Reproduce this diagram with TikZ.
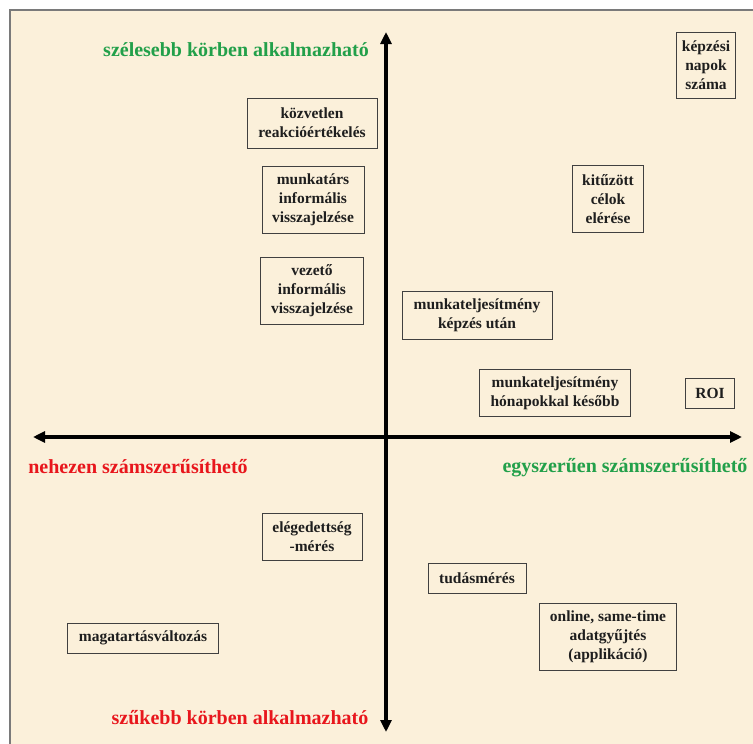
\documentclass[tikz,border=0pt]{standalone}
\usepackage{fontspec}
\setmainfont{Liberation Serif}
\usetikzlibrary{arrows.meta}
\definecolor{parchment}{HTML}{FBF0DA}
\definecolor{framegray}{HTML}{7A7A7A}
\definecolor{goodgreen}{HTML}{22A04A}
\definecolor{badred}{HTML}{E8161C}
\definecolor{boxtext}{HTML}{1E1E1E}
\tikzset{
  method/.style={draw=boxtext!85, line width=0.9pt, align=center, inner sep=0pt,
    text=boxtext, font=\fontsize{15.5}{19}\selectfont\bfseries},
  axislabel/.style={font=\fontsize{20}{24}\selectfont\bfseries, inner sep=0pt},
  axis/.style={line width=3.5pt, {Triangle[width=11pt,length=12pt]}-{Triangle[width=11pt,length=12pt]}}
}
\begin{document}
\begin{tikzpicture}[x=1pt, y=-1pt]
		%%%%% START %%%%%
		\useasboundingbox (0, 0) rectangle (753, 744);
		
		\fill[white] (0, 0) rectangle (753, 744);
		\fill[parchment] (10, 10) rectangle (753, 744);
		\draw[framegray, line width=1.2pt] (10, 744) -- (10, 10) -- (753, 10);
		
		% axes
		\coordinate (top) at (386, 32);
		\coordinate (bottom) at (386, 732);
		\coordinate (left) at (33, 437);
		\coordinate (right) at (742, 437);
		\draw[axis] (top) -- (bottom);
		\draw[axis] (left) -- (right);
		
		% axis labels
		\node[axislabel, text=goodgreen] (wide) at (236, 50) {szélesebb körben alkalmazható};
		\node[axislabel, text=badred] (narrow) at (240, 718) {szűkebb körben alkalmazható};
		\node[axislabel, text=badred] (hard) at (138, 467) {nehezen számszerűsíthető};
		\node[axislabel, text=goodgreen] (easy) at (625, 468) {egyszerűen számszerűsíthető};
		
		% upper left
		\node[method, minimum width=130, minimum height=50] (reaction) at (312, 123) {közvetlen\\reakcióértékelés};
		\node[method, minimum width=102, minimum height=67] (peer) at (313, 200) {munkatárs\\informális\\visszajelzése};
		\node[method, minimum width=103, minimum height=67] (leader) at (312, 291) {vezető\\informális\\visszajelzése};
		
		% upper right
		\node[method, minimum width=59, minimum height=66] (days) at (706, 65) {képzési\\napok\\száma};
		\node[method, minimum width=71, minimum height=67] (goals) at (608, 199) {kitűzött\\célok\\elérése};
		\node[method, minimum width=150, minimum height=48] (perfafter) at (477, 315) {munkateljesítmény\\képzés után};
		\node[method, minimum width=151, minimum height=47] (perflater) at (555, 393) {munkateljesítmény\\hónapokkal később};
		\node[method, minimum width=49, minimum height=30] (roi) at (710, 393) {ROI};
		
		% lower left
		\node[method, minimum width=100, minimum height=47] (satisf) at (312, 537) {elégedettség\\-mérés};
		\node[method, minimum width=151, minimum height=30] (behav) at (143, 638) {magatartásváltozás};
		
		% lower right
		\node[method, minimum width=98, minimum height=30] (knowl) at (477, 578) {tudásmérés};
		\node[method, minimum width=137, minimum height=67] (online) at (608, 637) {online, same-time\\adatgyűjtés\\(applikáció)};
		
		%%%%% END %%%%%
\end{tikzpicture}
\end{document}
